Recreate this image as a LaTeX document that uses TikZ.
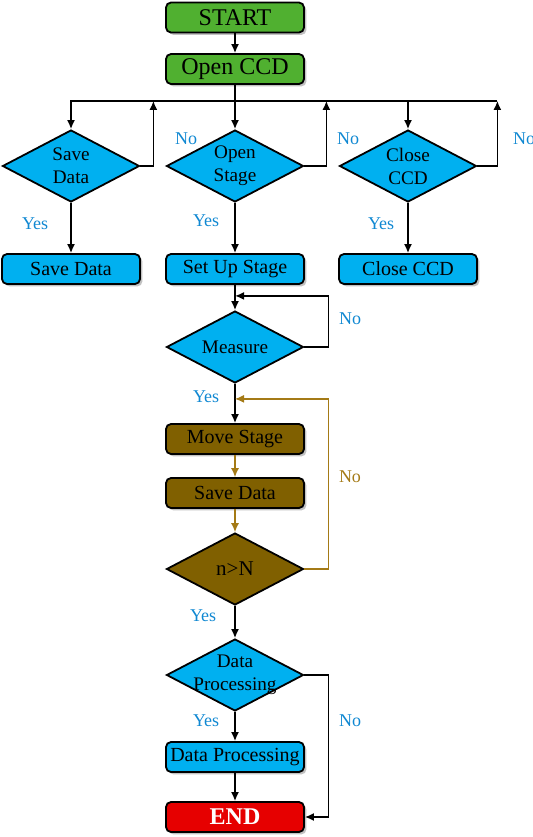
\documentclass[tikz,border=0pt]{standalone}
\usepackage{fontspec}
\setmainfont{Liberation Serif}
\usetikzlibrary{shapes,arrows.meta,positioning,shadows}
\definecolor{startgreen}{RGB}{80,176,48}
\definecolor{stepblue}{RGB}{0,176,240}
\definecolor{loopbrown}{RGB}{128,96,0}
\definecolor{linebrown}{RGB}{164,122,22}
\definecolor{endred}{RGB}{230,0,0}
\definecolor{yesblue}{RGB}{16,136,210}
\tikzset{
    block/.style={
           rectangle, rounded corners=2.5pt,
           draw=black, line width=0.9pt,
           minimum width=69pt,
           minimum height=15pt,
           inner sep=0pt,
           text centered,
           font=\fontsize{10}{12}\selectfont,
           drop shadow={shadow xshift=1.2pt, shadow yshift=-1.2pt,
                        fill=black!60, opacity=0.4}
           },
    decision/.style={
           diamond, aspect=1.9,
           draw=black, line width=0.9pt,
           fill=stepblue,
           minimum width=68.5pt,
           minimum height=36pt,
           inner sep=-3pt,
           align=center,
           font=\fontsize{9.6}{11.5}\selectfont
           },
    answer/.style={
           font=\fontsize{9}{10}\selectfont,
           text=yesblue,
           inner sep=1pt
           },
    flow/.style={
           ->, line width=0.8pt
           }
}

\begin{document}
\begin{tikzpicture}[x=0.5pt, y=-0.5pt, >={Latex[length=4.5pt,width=4pt]}, node distance=40pt, on grid]
\useasboundingbox (0,0) rectangle (533,837);
   % main column
   \node[block, fill=startgreen, font=\fontsize{12}{14}\selectfont] (start) at (235,17.5) {START};
   \node[block, fill=startgreen, font=\fontsize{12}{14}\selectfont] (open) [below=25.75pt of start] {Open CCD};
   \node[decision] (stage) [below=48.5pt of open] {Open\\Stage};
   \node[decision] (save) [left=82pt of stage] {Save\\Data};
   \node[decision] (close) [right=86.5pt of stage] {Close\\CCD};
   \node[block, fill=stepblue] (saveb) [below=51.5pt of save] {Save Data};
   \node[block, fill=stepblue] (setup) [below=51.5pt of stage] {Set Up Stage};
   \node[block, fill=stepblue] (closeb) [below=51.5pt of close] {Close CCD};
   \node[decision] (measure) [below=39pt of setup] {Measure};
   \node[block, fill=loopbrown] (move) [below=46pt of measure] {Move Stage};
   \node[block, fill=loopbrown] (store) [below=27pt of move] {Save Data};
   \node[decision, fill=loopbrown, font=\fontsize{10.5}{12}\selectfont] (count) [below=38pt of store] {n>N};
   \node[decision] (proc) [below=53pt of count] {Data\\Processing};
   \node[block, fill=stepblue] (procb) [below=41pt of proc] {Data Processing};
   \node[block, fill=endred, text=white, font=\fontsize{12}{14}\selectfont\bfseries] (end) [below=30pt of procb] {END};
   % join points
   \coordinate (bus) at ([yshift=-8pt]open.south);
   \coordinate (mjoin) at ([yshift=-5.5pt]setup.south);
   \coordinate (bjoin) at ([yshift=-7.5pt]measure.south);
   % top part
   \draw[flow] (start) -- (open);
   \draw[flow] (open) -- (stage);
   \draw[flow] (bus) -| (save);
   \draw[flow] (bus) -| (close);
   \draw[flow] (save.east) -- ++(13,0) coordinate (saveturn)
        -- node[answer, right=9.5pt, pos=0.42] {No} (saveturn |- bus);
   \draw[flow] (stage.east) -- ++(22,0) coordinate (stageturn)
        -- node[answer, right=4pt, pos=0.42] {No} (stageturn |- bus);
   \draw[flow] (close.east) -- ++(20,0) coordinate (closeturn)
        -- node[answer, right=6.5pt, pos=0.42] {No} (closeturn |- bus);
   \draw[line width=0.8pt] (close |- bus) -- (closeturn |- bus);
   \draw[flow] (save) -- node[answer, left=10pt, pos=0.42] {Yes} (saveb);
   \draw[flow] (stage) -- node[answer, left=6.5pt, pos=0.35] {Yes} (setup);
   \draw[flow] (close) -- node[answer, left=5.5pt, pos=0.42] {Yes} (closeb);
   % measuring loop
   \draw[flow] (setup) -- (measure);
   \draw[flow] (measure.east) -- ++(24,0) coordinate (mturn)
        -- node[answer, right=4pt, pos=0.56] {No} (mturn |- mjoin) -- (mjoin);
   \draw[flow] (measure) -- node[answer, left=6.5pt, pos=0.32] {Yes} (move);
   \draw[flow, linebrown, line width=0.6pt] (move) -- (store);
   \draw[flow, linebrown, line width=0.6pt] (store) -- (count);
   \draw[flow, linebrown, line width=0.6pt] (count.east) -- ++(24,0) coordinate (nturn)
        -- node[answer, text=linebrown, right=4pt, pos=0.54] {No} (nturn |- bjoin) -- (bjoin);
   % processing
   \draw[flow] (count) -- node[answer, left=8pt, pos=0.3] {Yes} (proc);
   \draw[flow] (proc) -- node[answer, left=6.5pt, pos=0.3] {Yes} (procb);
   \draw[flow] (procb) -- (end);
   \draw[flow] (proc.east) -- ++(24,0) coordinate (pturn)
        -- node[answer, right=4pt, pos=0.32] {No} (pturn |- end) -- (end.east);
\end{tikzpicture}
\end{document}
